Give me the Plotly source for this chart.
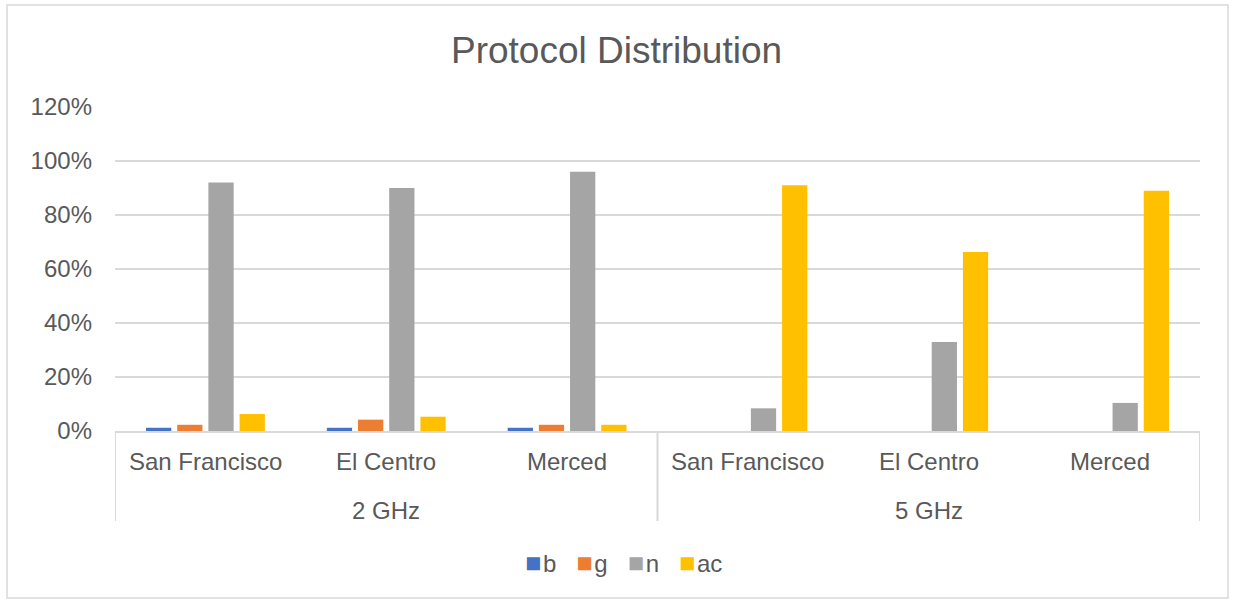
import plotly.graph_objects as go

# Categories: frequency band groups and cities
band_names = ["2 GHz", "5 GHz"]
cities = ["San Francisco", "El Centro", "Merced", "San Francisco", "El Centro", "Merced"]

# Share of each 802.11 protocol (fractions)
b_vals = [0.012, 0.012, 0.012, 0.0, 0.0, 0.0]
g_vals = [0.023, 0.042, 0.023, 0.0, 0.0, 0.0]
n_vals = [0.92, 0.90, 0.96, 0.084, 0.33, 0.104]
ac_vals = [0.063, 0.053, 0.023, 0.91, 0.663, 0.89]

series = [("b", b_vals, "#4472C4"), ("g", g_vals, "#ED7D31"),
          ("n", n_vals, "#A5A5A5"), ("ac", ac_vals, "#FFC000")]

W, H = 1233, 602
ml, mr, mt, mb = 115, 33, 107, 171
pw = W - ml - mr
ph = H - mt - mb
TXT = "#595959"
GRID = "#D9D9D9"
FONT = "Liberation Sans, Arial, sans-serif"

xpos = list(range(len(cities)))
per_band = len(cities) // len(band_names)

fig = go.Figure()
for name, vals, color in series:
    fig.add_trace(go.Bar(x=xpos, y=vals, name=name, showlegend=False,
                         marker=dict(color=color, line=dict(width=0))))

fig.update_layout(
    width=W, height=H,
    margin=dict(l=ml, r=mr, t=mt, b=mb),
    paper_bgcolor="white", plot_bgcolor="white",
    font=dict(family=FONT, color=TXT, size=24),
    title=dict(text="Protocol Distribution", x=0.5, xanchor="center",
               y=1 - 50 / H, yanchor="middle",
               font=dict(size=37, color=TXT)),
    barmode="group", bargap=0.31, bargroupgap=0.19,
)
fig.update_yaxes(range=[0, 1.2], dtick=0.2, tickformat=".0%",
                 showgrid=True, gridcolor=GRID, gridwidth=1.5,
                 zeroline=False, showline=False, ticks="",
                 tickfont=dict(size=24, color=TXT), ticklabelstandoff=22)
fig.update_xaxes(range=[-0.5, len(cities) - 0.5], showticklabels=False,
                 showgrid=False, zeroline=False, showline=True,
                 linecolor=GRID, linewidth=2, ticks="")

# city labels (first level)
for i, c in enumerate(cities):
    fig.add_annotation(x=i, xref="x", y=-(461 - (H - mb)) / ph, yref="paper",
                       text=c, showarrow=False, yanchor="middle",
                       font=dict(size=24, color=TXT))

# band labels (second level) and group dividers
for k, band in enumerate(band_names):
    center = k * per_band + (per_band - 1) / 2
    fig.add_annotation(x=center, xref="x", y=-(510 - (H - mb)) / ph, yref="paper",
                       text=band, showarrow=False, yanchor="middle",
                       font=dict(size=24, color=TXT))
for k in range(len(band_names) + 1):
    xd = k * per_band - 0.5
    fig.add_shape(type="line", xref="x", yref="paper", x0=xd, x1=xd,
                  y0=0, y1=-(521 - (H - mb)) / ph,
                  line=dict(color=GRID, width=2))

# legend row
legend_txt = "   ".join(
    f'<span style="color:{col};font-size:27px">■</span>'
    f'<span style="font-size:6px"> </span>{nm}'
    for nm, _, col in series)
fig.add_annotation(x=(623 - ml) / pw, xref="paper", y=-(563 - (H - mb)) / ph,
                   yref="paper", text=legend_txt, showarrow=False,
                   yanchor="middle", xanchor="center",
                   font=dict(size=24, color=TXT))

# chart frame
fig.add_shape(type="rect", xref="paper", yref="paper",
              x0=(7 - ml) / pw, x1=(1228 - ml) / pw,
              y0=-(598 - (H - mb)) / ph, y1=1 + (mt - 5) / ph,
              line=dict(color=GRID, width=1.5), fillcolor="rgba(0,0,0,0)",
              layer="below")

fig.write_html("out.html")
